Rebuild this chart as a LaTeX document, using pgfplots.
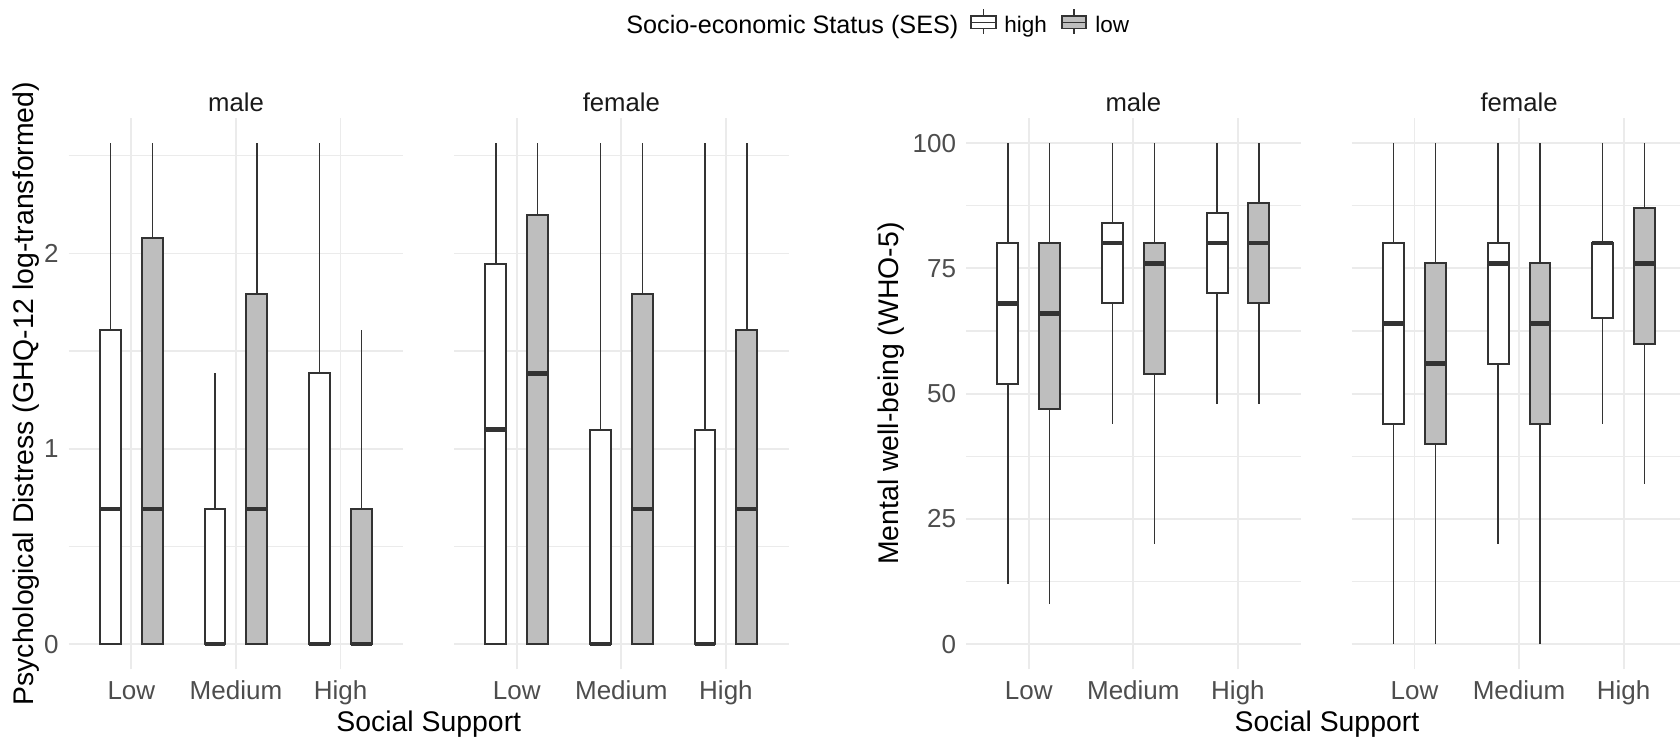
\documentclass[border=0pt]{standalone}
\usepackage{pgfplots}
\pgfplotsset{compat=1.18}
\usepgfplotslibrary{statistics}
\usepackage{fontspec}
\setmainfont{Liberation Sans}

\definecolor{gridgrey}{HTML}{EBEBEB}
\definecolor{boxline}{HTML}{333333}
\definecolor{lowfill}{HTML}{BEBEBE}
\definecolor{ticktext}{HTML}{4D4D4D}
\definecolor{striptext}{HTML}{1A1A1A}

% vertical boxes, whiskers without caps
\pgfplotsset{
  boxplot/draw direction=y,
  boxplot/whisker extend=0,
  boxplot/every whisker/.style={line width=0.75pt},
  boxplot/every median/.style={line width=2.2pt},
  facet/.style={
    scale only axis, width=167.35pt, height=275.65pt,
    anchor=south west,
    xmin=0.4, xmax=3.6,
    xtick={1,2,3}, xticklabels={Low,Medium,High},
    axis line style={draw=none},
    major tick length=0pt, minor tick length=0pt,
    xmajorgrids, ymajorgrids, yminorgrids,
    major grid style={gridgrey, line width=0.9pt},
    minor grid style={gridgrey, line width=0.7pt},
    /pgf/number format/assume math mode=true,
    tick label style={font=\fontsize{13}{15}\selectfont, text=ticktext, inner sep=0pt},
    xticklabel style={anchor=base, yshift=-15pt},
    yticklabel style={anchor=east, xshift=-4.8pt},
    title style={at={(0.5,1)}, anchor=base, yshift=-2.9pt, inner sep=0pt,
      font=\fontsize{12.85}{15}\selectfont, text=striptext},
    label style={font=\fontsize{14.2}{17}\selectfont},
    every axis plot/.append style={draw=boxline, line width=1pt,
      boxplot/draw direction=y, boxplot/whisker extend=0},
  },
  ghq/.style={facet, ymin=-0.12825, ymax=2.69325, ytick={0,1,2}, minor ytick={0.5,1.5,2.5}},
  who/.style={facet, ymin=-5, ymax=105, ytick={0,25,50,75,100}, minor ytick={12.5,37.5,62.5,87.5}},
}

\begin{document}
\begin{tikzpicture}

% GHQ-12 (log-transformed), male
\begin{axis}[ghq, at={(34.3pt,34.85pt)}, title={male},
  ylabel={Psychological Distress (GHQ-12 log-transformed)},
  ylabel style={at={(axis description cs:-0.1255,0.5)}, anchor=center},
  xlabel={Social Support},
  xlabel style={at={(axis description cs:1.0762,-0.1132)}, anchor=base}]
\addplot[fill=white,   boxplot prepared={draw position=0.8, lower whisker=0, lower quartile=0, median=0.693, upper quartile=1.609, upper whisker=2.565, box extend=0.2}] coordinates {};
\addplot[fill=lowfill, boxplot prepared={draw position=1.2, lower whisker=0, lower quartile=0, median=0.693, upper quartile=2.079, upper whisker=2.565, box extend=0.2}] coordinates {};
\addplot[fill=white,   boxplot prepared={draw position=1.8, lower whisker=0, lower quartile=0, median=0, upper quartile=0.693, upper whisker=1.386, box extend=0.2}] coordinates {};
\addplot[fill=lowfill, boxplot prepared={draw position=2.2, lower whisker=0, lower quartile=0, median=0.693, upper quartile=1.792, upper whisker=2.565, box extend=0.2}] coordinates {};
\addplot[fill=white,   boxplot prepared={draw position=2.8, lower whisker=0, lower quartile=0, median=0, upper quartile=1.386, upper whisker=2.565, box extend=0.2}] coordinates {};
\addplot[fill=lowfill, boxplot prepared={draw position=3.2, lower whisker=0, lower quartile=0, median=0, upper quartile=0.693, upper whisker=1.609, box extend=0.2}] coordinates {};
\end{axis}

% GHQ-12 (log-transformed), female
\begin{axis}[ghq, at={(227pt,34.85pt)}, title={female}, yticklabels={}]
\addplot[fill=white,   boxplot prepared={draw position=0.8, lower whisker=0, lower quartile=0, median=1.099, upper quartile=1.946, upper whisker=2.565, box extend=0.2}] coordinates {};
\addplot[fill=lowfill, boxplot prepared={draw position=1.2, lower whisker=0, lower quartile=0, median=1.386, upper quartile=2.197, upper whisker=2.565, box extend=0.2}] coordinates {};
\addplot[fill=white,   boxplot prepared={draw position=1.8, lower whisker=0, lower quartile=0, median=0, upper quartile=1.099, upper whisker=2.565, box extend=0.2}] coordinates {};
\addplot[fill=lowfill, boxplot prepared={draw position=2.2, lower whisker=0, lower quartile=0, median=0.693, upper quartile=1.792, upper whisker=2.565, box extend=0.2}] coordinates {};
\addplot[fill=white,   boxplot prepared={draw position=2.8, lower whisker=0, lower quartile=0, median=0, upper quartile=1.099, upper whisker=2.565, box extend=0.2}] coordinates {};
\addplot[fill=lowfill, boxplot prepared={draw position=3.2, lower whisker=0, lower quartile=0, median=0.693, upper quartile=1.609, upper whisker=2.565, box extend=0.2}] coordinates {};
\end{axis}

% WHO-5, male
\begin{axis}[who, at={(483pt,34.85pt)}, title={male},
  ylabel={Mental well-being (WHO-5)},
  ylabel style={at={(axis description cs:-0.2241,0.5)}, anchor=center},
  xlabel={Social Support},
  xlabel style={at={(axis description cs:1.0783,-0.1132)}, anchor=base}]
\addplot[fill=white,   boxplot prepared={draw position=0.8, lower whisker=12, lower quartile=52, median=68, upper quartile=80, upper whisker=100, box extend=0.2}] coordinates {};
\addplot[fill=lowfill, boxplot prepared={draw position=1.2, lower whisker=8, lower quartile=47, median=66, upper quartile=80, upper whisker=100, box extend=0.2}] coordinates {};
\addplot[fill=white,   boxplot prepared={draw position=1.8, lower whisker=44, lower quartile=68, median=80, upper quartile=84, upper whisker=100, box extend=0.2}] coordinates {};
\addplot[fill=lowfill, boxplot prepared={draw position=2.2, lower whisker=20, lower quartile=54, median=76, upper quartile=80, upper whisker=100, box extend=0.2}] coordinates {};
\addplot[fill=white,   boxplot prepared={draw position=2.8, lower whisker=48, lower quartile=70, median=80, upper quartile=86, upper whisker=100, box extend=0.2}] coordinates {};
\addplot[fill=lowfill, boxplot prepared={draw position=3.2, lower whisker=48, lower quartile=68, median=80, upper quartile=88, upper whisker=100, box extend=0.2}] coordinates {};
\end{axis}

% WHO-5, female
\begin{axis}[who, at={(675.85pt,34.85pt)}, title={female}, yticklabels={}]
\addplot[fill=white,   boxplot prepared={draw position=0.8, lower whisker=0, lower quartile=44, median=64, upper quartile=80, upper whisker=100, box extend=0.2}] coordinates {};
\addplot[fill=lowfill, boxplot prepared={draw position=1.2, lower whisker=0, lower quartile=40, median=56, upper quartile=76, upper whisker=100, box extend=0.2}] coordinates {};
\addplot[fill=white,   boxplot prepared={draw position=1.8, lower whisker=20, lower quartile=56, median=76, upper quartile=80, upper whisker=100, box extend=0.2}] coordinates {};
\addplot[fill=lowfill, boxplot prepared={draw position=2.2, lower whisker=0, lower quartile=44, median=64, upper quartile=76, upper whisker=100, box extend=0.2}] coordinates {};
\addplot[fill=white,   boxplot prepared={draw position=2.8, lower whisker=44, lower quartile=65, median=80, upper quartile=80, upper whisker=100, box extend=0.2}] coordinates {};
\addplot[fill=lowfill, boxplot prepared={draw position=3.2, lower whisker=32, lower quartile=60, median=76, upper quartile=87, upper whisker=100, box extend=0.2}] coordinates {};
\end{axis}

% legend: SES groups
\node[anchor=base west, inner sep=0pt, font=\fontsize{12.6}{15}\selectfont] at (313pt,352.6pt) {Socio-economic Status (SES)};
\begin{scope}[draw=boxline, line width=0.6pt]
  \draw (491.75pt,352.5pt) -- (491.75pt,365pt);
  \draw[fill=white] (485.5pt,355.2pt) rectangle (498pt,361.5pt);
  \draw (485.5pt,358.35pt) -- (498pt,358.35pt);
  \draw (537pt,352.5pt) -- (537pt,365pt);
  \draw[fill=lowfill] (531pt,355.2pt) rectangle (543pt,361.5pt);
  \draw (531pt,358.35pt) -- (543pt,358.35pt);
\end{scope}
\node[anchor=base west, inner sep=0pt, font=\fontsize{11.25}{13}\selectfont] at (502pt,353pt) {high};
\node[anchor=base west, inner sep=0pt, font=\fontsize{11.25}{13}\selectfont] at (547.5pt,353pt) {low};

\pgfresetboundingbox
\path[use as bounding box] (0,0) rectangle (840pt,369.5pt);
\end{tikzpicture}
\end{document}
